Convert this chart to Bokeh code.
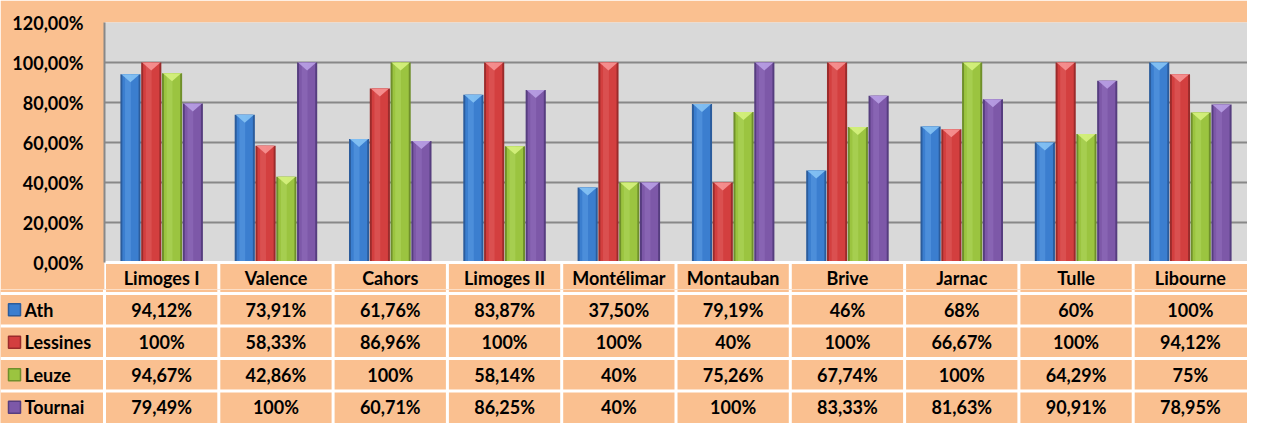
from bokeh.plotting import figure
from bokeh.layouts import column
from bokeh.models import Range1d, FixedTicker, CustomJSTickFormatter, ColumnDataSource
from bokeh.core.properties import value
from bokeh.embed import file_html
from bokeh.resources import INLINE

# ---------------- data ----------------
categories = ["Limoges I", "Valence", "Cahors", "Limoges II", "Montélimar",
              "Montauban", "Brive", "Jarnac", "Tulle", "Libourne"]
series_names = ["Ath", "Lessines", "Leuze", "Tournai"]
ath = [94.12, 73.91, 61.76, 83.87, 37.50, 79.19, 46, 68, 60, 100]
lessines = [100, 58.33, 86.96, 100, 100, 40, 100, 66.67, 100, 94.12]
leuze = [94.67, 42.86, 100, 58.14, 40, 75.26, 67.74, 100, 64.29, 75]
tournai = [79.49, 100, 60.71, 86.25, 40, 100, 83.33, 81.63, 90.91, 78.95]
y_ticks = [0, 20, 40, 60, 80, 100, 120]


def fmt(v):
    if float(v).is_integer():
        return f"{int(v)}%"
    return f"{v:.2f}".replace(".", ",") + "%"


# ---------------- style ----------------
ORANGE = "#FAC090"
GRAY = "#D9D9D9"
GRID = "#888888"
FONT = "Lato"
FS = "18px"
# dark edge, main, highlight, top bevel
colors = [
    ("#2B5C9C", "#3B7ECF", "#5B9BE3", "#86C3F4"),
    ("#9B2B2B", "#D33F3F", "#E05E5E", "#F79393"),
    ("#6F8F2B", "#9BC440", "#AFD75C", "#D6F27E"),
    ("#563D7F", "#7D58A8", "#9270BB", "#B9A0E4"),
]
series_vals = [ath, lessines, leuze, tournai]

W = 1247
LEFT = 104
TOP_PAD = 22
PLOT_PX = 240
STRIP_PX = 27
TOP_H = TOP_PAD + PLOT_PX + STRIP_PX
BOT_H = 423 - TOP_H
HDR_GAP = 4                       # header row continues this far into table figure
ROW_PX = (BOT_H - HDR_GAP) / 4

ymax = y_ticks[-1]
ppu = PLOT_PX / ymax
strip = STRIP_PX / ppu
ncat = len(categories)
cat_px = (W - LEFT) / ncat
left_units = LEFT / cat_px

# ---------------- chart ----------------
p = figure(width=W, height=TOP_H, x_range=Range1d(0, ncat), y_range=Range1d(-strip, ymax),
           output_backend="svg", toolbar_location=None, title=None, x_axis_location=None,
           min_border_left=LEFT, min_border_right=0, min_border_top=TOP_PAD, min_border_bottom=0,
           frame_align=False)
p.background_fill_color = GRAY
p.border_fill_color = ORANGE
p.outline_line_color = None
p.xgrid.visible = False
p.ygrid.grid_line_color = GRID
p.ygrid.grid_line_width = 2
p.yaxis.ticker = FixedTicker(ticks=y_ticks)
p.yaxis.bounds = (0, ymax)
p.yaxis.formatter = CustomJSTickFormatter(code="return tick.toFixed(2).replace('.', ',') + '%';")
p.yaxis.major_label_text_font = FONT
p.yaxis.major_label_text_font_style = "bold"
p.yaxis.major_label_text_font_size = FS
p.yaxis.major_label_text_color = "#000000"
p.yaxis.major_tick_out = 0
p.yaxis.major_tick_in = 0
p.yaxis.minor_tick_out = 0
p.yaxis.minor_tick_in = 0
p.yaxis.major_label_standoff = 21
p.yaxis.axis_line_color = GRID
p.yaxis.axis_line_width = 2

# orange strip (table header) under the plot area
p.quad(left=0, right=ncat, bottom=-strip, top=0, fill_color=ORANGE, line_color=None)

bw = 1 / 5.5
tri_h = 8 / ppu
for j, vals in enumerate(series_vals):
    dark, main, light, bevel = colors[j]
    xs = [i + 0.5 + (j - 1.5) * bw for i in range(ncat)]
    src = ColumnDataSource(dict(x=xs, top=vals, xh=[x - 0.12 * bw for x in xs]))
    p.vbar(x="x", top="top", bottom=0, width=bw * 0.97, source=src,
           fill_color=dark, line_color=None)
    p.vbar(x="x", top="top", bottom=0, width=bw * 0.78, source=src,
           fill_color=main, line_color=None)
    p.vbar(x="xh", top="top", bottom=0, width=bw * 0.28, source=src,
           fill_color=light, fill_alpha=0.55, line_color=None)
    txs = [[x - bw * 0.44, x + bw * 0.44, x] for x in xs]
    tys = [[v, v, v - tri_h] for v in vals]
    p.patches(xs=txs, ys=tys, fill_color=bevel, fill_alpha=0.9, line_color=None)

# table header inside chart figure
p.segment(x0=0, x1=ncat, y0=0, y1=0, line_color="white", line_width=3)
p.segment(x0=list(range(ncat)), x1=list(range(ncat)), y0=-strip, y1=0,
          line_color="white", line_width=3)
hdr_y = -(STRIP_PX + HDR_GAP) / 2 / ppu
hdr = ColumnDataSource(dict(x=[i + 0.5 for i in range(ncat)],
                            y=[hdr_y] * ncat, t=categories))
p.text(x="x", y="y", text="t", source=hdr, text_align="center", text_baseline="middle",
       text_font=value(FONT), text_font_style="bold", text_font_size=FS, text_color="#000000")

# ---------------- data table ----------------
off = HDR_GAP / ROW_PX
nrow = len(series_names)
q = figure(width=W, height=BOT_H, x_range=Range1d(-left_units, ncat),
           y_range=Range1d(BOT_H / ROW_PX - off, -off),
           output_backend="svg", toolbar_location=None, title=None,
           x_axis_location=None, y_axis_location=None, min_border=0,
           frame_align=False)
q.grid.visible = False
q.background_fill_color = ORANGE
q.border_fill_color = ORANGE
q.outline_line_color = None

q.segment(x0=-left_units, x1=ncat, y0=list(range(nrow)), y1=list(range(nrow)),
          line_color="white", line_width=3)
q.segment(x0=list(range(ncat)), x1=list(range(ncat)), y0=-off, y1=BOT_H / ROW_PX,
          line_color="white", line_width=3)

for j, vals in enumerate(series_vals):
    dark, main, light, bevel = colors[j]
    src = ColumnDataSource(dict(x=[i + 0.5 for i in range(ncat)], y=[j + 0.5] * ncat,
                                t=[fmt(v) for v in vals]))
    q.text(x="x", y="y", text="t", source=src, text_align="center", text_baseline="middle",
           text_font=value(FONT), text_font_style="bold", text_font_size=FS,
           text_color="#000000")
    q.rect(x=[-left_units + 14 / cat_px], y=[j + 0.5], width=12, height=12,
           width_units="screen", height_units="screen", fill_color=main,
           line_color=dark, line_width=1.5)
    q.text(x=[-left_units + 24 / cat_px], y=[j + 0.5], text=[series_names[j]],
           text_align="left", text_baseline="middle", text_font=value(FONT),
           text_font_style="bold", text_font_size=FS, text_color="#000000")

layout = column(p, q, spacing=0)
open("out.html", "w").write(file_html(layout, INLINE))
